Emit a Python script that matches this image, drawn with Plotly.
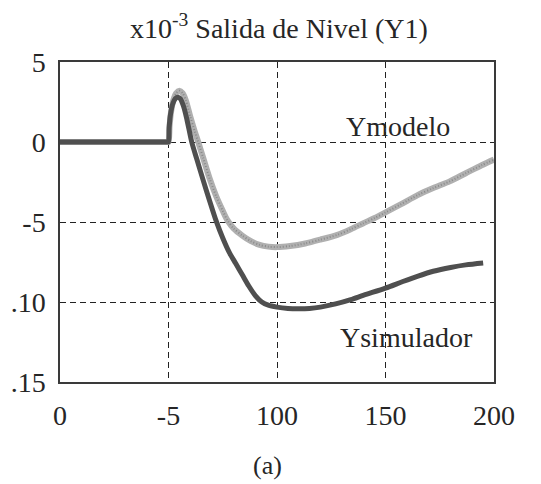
import plotly.graph_objects as go

# ---- data ----
sim_x = [0, 25, 45, 49.5, 50, 50.3, 51, 52, 53.2, 54.3, 55.5, 57, 58.5, 60.7, 63, 66, 69, 72, 75, 78,
         81, 84, 87, 90, 93, 96, 100, 105, 110, 115, 120, 127, 134, 140, 150, 158, 165, 172, 180, 187, 195]
sim_y = [0, 0, 0, 0, 0, 0.9, 1.8, 2.4, 2.72, 2.8, 2.7, 2.2, 1.4, 0, -1.05, -2.4, -3.7, -4.95, -6.0, -6.9,
         -7.6, -8.3, -9.0, -9.6, -10.0, -10.2, -10.32, -10.4, -10.42, -10.4, -10.32, -10.12, -9.85, -9.57,
         -9.13, -8.72, -8.38, -8.08, -7.84, -7.68, -7.56]

mod_x = [0, 25, 45, 49.5, 50, 50.5, 51.2, 52.2, 53.5, 55, 56.5, 58, 60, 62, 63.7, 66, 69, 72, 75, 77.2,
         80, 84, 88, 92, 96, 100, 106, 113, 120, 127.8, 134, 139.6, 145, 150, 157, 164.8, 172, 179.6,
         187, 194.3, 200]
mod_y = [0, 0, 0, 0, 0, 1.0, 1.9, 2.6, 3.05, 3.2, 3.05, 2.6, 1.6, 0.7, 0, -1.0, -2.3, -3.4, -4.3, -4.9,
         -5.4, -5.85, -6.2, -6.43, -6.54, -6.57, -6.5, -6.34, -6.1, -5.8, -5.45, -5.09, -4.75, -4.4,
         -3.9, -3.32, -2.88, -2.46, -1.95, -1.45, -1.1]

x_tickvals = [0, 50, 100, 150, 200]
x_ticktext = ["0", "-5", "100", "150", "200"]
y_tickvals = [5, 0, -5, -10, -15]
y_ticktext = ["5", "0", "-5", ".10", ".15"]

FONT = "Liberation Serif"
TXT = "#262626"

fig = go.Figure()
fig.add_trace(go.Scatter(x=mod_x, y=mod_y, mode="lines", name="Ymodelo",
                         line=dict(color="#b0b0b0", width=6, shape="spline", smoothing=0.8)))
fig.add_trace(go.Scatter(x=mod_x, y=mod_y, mode="lines", showlegend=False, hoverinfo="skip",
                         line=dict(color="#8a8a8a", width=2, dash="1px,2px", shape="spline", smoothing=0.8)))
fig.add_trace(go.Scatter(x=sim_x, y=sim_y, mode="lines", name="Ysimulador",
                         line=dict(color="#4f4f4f", width=5, shape="spline", smoothing=0.8)))

axis_common = dict(showline=True, linecolor="#3a3a3a", linewidth=1.5, mirror=True,
                   showgrid=True, gridcolor="#222222", gridwidth=1.2, griddash="6px,4px",
                   zeroline=False, ticks="outside", tickcolor="rgba(0,0,0,0)",
                   tickfont=dict(family=FONT, size=28, color=TXT))

fig.update_xaxes(range=[0, 200], tickvals=x_tickvals, ticktext=x_ticktext, ticklen=8, **axis_common)
fig.update_yaxes(range=[-15, 5], tickvals=y_tickvals, ticktext=y_ticktext, ticklen=7, **axis_common)

fig.add_annotation(text="x10<sup>-3</sup> Salida de Nivel (Y1)", xref="paper", yref="paper",
                   x=0.505, y=1.0, yshift=36, yanchor="middle", showarrow=False,
                   font=dict(family=FONT, size=28, color=TXT))
fig.add_annotation(text="Ymodelo", xref="x", yref="y", x=155.8, y=0.95, showarrow=False,
                   font=dict(family=FONT, size=28, color=TXT))
fig.add_annotation(text="Ysimulador", xref="x", yref="y", x=159.8, y=-12.2, showarrow=False,
                   font=dict(family=FONT, size=28, color=TXT))
fig.add_annotation(text="(a)", xref="paper", yref="paper", x=0.477, y=0, yshift=-83,
                   yanchor="middle", showarrow=False,
                   font=dict(family=FONT, size=26, color=TXT))

fig.update_layout(width=541, height=484, margin=dict(l=60, r=47, t=62, b=102),
                  paper_bgcolor="white", plot_bgcolor="white", showlegend=False)

fig.write_html("out.html", config={"displayModeBar": False},
               post_script="document.body.style.margin='0';document.body.style.padding='0';"
                           "document.documentElement.style.overflow='hidden';")
